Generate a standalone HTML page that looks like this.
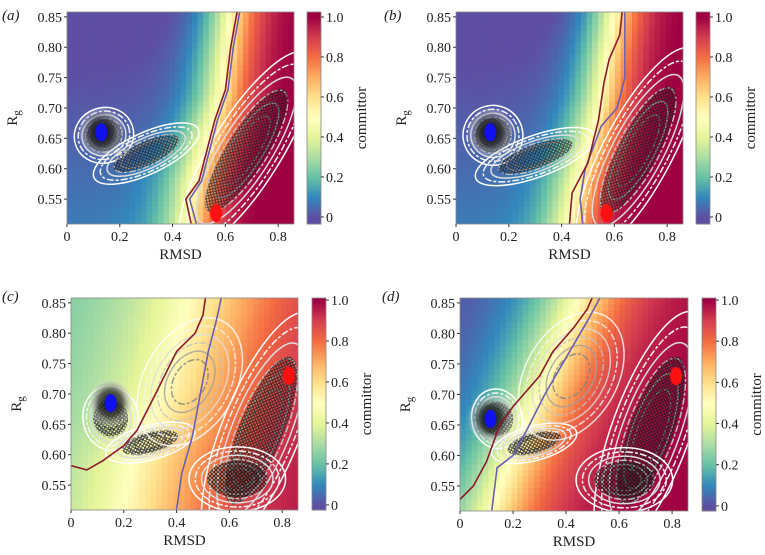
<!DOCTYPE html>
<html><head><meta charset="utf-8"><style>
html,body{margin:0;padding:0;background:#fff;}
svg{display:block;font-family:"Liberation Serif",serif;}
</style></head><body>
<svg id="fig" width="765" height="555" viewBox="0 0 765 555" xmlns="http://www.w3.org/2000/svg">
<defs>
<pattern id="dots" width="4" height="4" patternUnits="userSpaceOnUse">
<circle cx="2" cy="2" r="1.5" fill="none" stroke="#1a1a1a" stroke-width="0.8"/>
</pattern>
<radialGradient id="startShade">
<stop offset="0" stop-color="#000" stop-opacity="0.95"/>
<stop offset="0.55" stop-color="#333" stop-opacity="0.75"/>
<stop offset="1" stop-color="#eee" stop-opacity="0.2"/>
</radialGradient>
</defs>
</svg>
<script>
// ---- data ----
const xTicks=[0,0.2,0.4,0.6,0.8];
const xTickLabels=["0","0.2","0.4","0.6","0.8"];
const yTicks=[0.55,0.60,0.65,0.70,0.75,0.80,0.85];
const yTickLabels=["0.55","0.60","0.65","0.70","0.75","0.80","0.85"];
const cbTicks=[0,0.2,0.4,0.6,0.8,1.0];
const cbTickLabels=["0","0.2","0.4","0.6","0.8","1.0"];
const panelLetters=["a","b","c","d"];
// isolines as [rmsd, rg]
const redLineA=[[0.47,0.51],[0.45,0.55],[0.5,0.58],[0.53,0.63],[0.56,0.68],[0.6,0.73],[0.62,0.8],[0.645,0.86]];
const purpleLineA=[[0.49,0.51],[0.465,0.55],[0.51,0.58],[0.54,0.63],[0.57,0.68],[0.61,0.73],[0.63,0.8],[0.655,0.86]];
const redLineB=[[0.43,0.51],[0.44,0.56],[0.5,0.61],[0.54,0.68],[0.56,0.74],[0.58,0.78],[0.62,0.82],[0.63,0.86]];
const purpleLineB=[[0.48,0.51],[0.47,0.55],[0.49,0.6],[0.55,0.67],[0.61,0.7],[0.64,0.75],[0.64,0.86]];
const redLineC=[[0,0.582],[0.06,0.575],[0.12,0.59],[0.2,0.615],[0.25,0.64],[0.32,0.7],[0.4,0.77],[0.47,0.8],[0.5,0.83],[0.51,0.86]];
const purpleLineC=[[0.4,0.51],[0.42,0.57],[0.46,0.63],[0.49,0.7],[0.52,0.77],[0.55,0.82],[0.57,0.86]];
const redLineD=[[0,0.528],[0.05,0.55],[0.1,0.59],[0.15,0.65],[0.2,0.68],[0.3,0.73],[0.35,0.77],[0.43,0.81],[0.48,0.84],[0.5,0.86]];
const purpleLineD=[[0.12,0.51],[0.14,0.58],[0.2,0.6],[0.25,0.64],[0.32,0.7],[0.4,0.76],[0.48,0.82],[0.53,0.86]];
// committor=0.5 location of heatmap field: rg levels and rmsd positions
const fieldRg=[0.51,0.58,0.65,0.72,0.86];
const halfA=[0.46,0.48,0.53,0.58,0.62];
const halfB=[0.43,0.46,0.51,0.55,0.60];
const halfC=[0.30,0.33,0.40,0.46,0.55];
const halfD=[0.12,0.18,0.25,0.32,0.45];
// field params: [qmin,qmax,width,yslope]
const fieldA=[-0.03,1.02,0.065,0.6];
const fieldB=[-0.03,1.02,0.065,0.6];
const fieldC=[0.2,1.0,0.2,0.0];
const fieldD=[0.0,1.0,0.12,0.0];
// clusters: [rmsd, rg, rxPx, ryPx, rotDeg, dotted(1/0)]
const clustersA=[[0.14,0.655,26,24,-20,1],[0.3,0.625,50,18,-25,1],[0.68,0.63,100,30,-58,1]];
const clustersB=[[0.14,0.655,26,26,-20,1],[0.3,0.62,55,18,-20,1],[0.69,0.63,100,30,-62,1]];
const clustersC=[[0.15,0.66,24,28,-10,1],[0.3,0.62,40,15,-15,1],[0.72,0.64,110,34,-68,1],[0.63,0.56,42,28,0,1],[0.45,0.72,60,40,-60,0]];
const clustersD=[[0.14,0.66,22,26,-10,1],[0.28,0.62,38,15,-15,1],[0.72,0.64,110,34,-70,1],[0.62,0.56,42,28,0,1],[0.42,0.73,60,40,-60,0]];
const startA=[0.13,0.66], endA=[0.565,0.527];
const startB=[0.13,0.66], endB=[0.57,0.527];
const startC=[0.15,0.685], endC=[0.825,0.73];
const startD=[0.115,0.66], endD=[0.815,0.73];

const panels=[
 {px:67,py:12,pw:227,ph:212,cbx:307,cbTop:1.025,cbBot:-0.035,red:redLineA,pur:purpleLineA,half:halfA,f:fieldA,cl:clustersA,s:startA,e:endA,lx:2,ly:20},
 {px:456,py:12,pw:227,ph:212,cbx:696,cbTop:1.025,cbBot:-0.035,red:redLineB,pur:purpleLineB,half:halfB,f:fieldB,cl:clustersB,s:startB,e:endB,lx:384,ly:20},
 {px:71,py:298,pw:227,ph:212,cbx:312,cbTop:1.01,cbBot:-0.025,red:redLineC,pur:purpleLineC,half:halfC,f:fieldC,cl:clustersC,s:startC,e:endC,lx:2,ly:301},
 {px:460,py:298,pw:228,ph:213,cbx:702,cbTop:1.01,cbBot:-0.025,red:redLineD,pur:purpleLineD,half:halfD,f:fieldD,cl:clustersD,s:startD,e:endD,lx:382,ly:301}
];
const XMIN=0,XMAX=0.86,YMIN=0.509,YMAX=0.858;

const stops=["#5e4fa2","#3288bd","#66c2a5","#abdda4","#e6f598","#ffffbf","#fee08b","#fdae61","#f46d43","#d53e4f","#9e0142"];
function hex(c){return [parseInt(c.slice(1,3),16),parseInt(c.slice(3,5),16),parseInt(c.slice(5,7),16)];}
function cmap(q){q=Math.max(0,Math.min(1,q));const t=q*10,i=Math.min(9,Math.floor(t)),f=t-i;const a=hex(stops[i]),b=hex(stops[i+1]);
 return "rgb("+a.map((v,k)=>Math.round(v+(b[k]-v)*f)).join(",")+")";}
const NS="http://www.w3.org/2000/svg";
const svg=document.getElementById("fig");
function el(tag,attrs,parent){const e=document.createElementNS(NS,tag);for(const k in attrs)e.setAttribute(k,attrs[k]);(parent||svg).appendChild(e);return e;}
function halfAt(arr,y){for(let i=0;i<fieldRg.length-1;i++){if(y<=fieldRg[i+1]){const t=(y-fieldRg[i])/(fieldRg[i+1]-fieldRg[i]);return arr[i]+Math.max(0,Math.min(1,t))*(arr[i+1]-arr[i]);}}return arr[arr.length-1];}

panels.forEach((p,pi)=>{
 const sx=v=>p.px+(v-XMIN)/(XMAX-XMIN)*p.pw;
 const sy=v=>p.py+p.ph-(v-YMIN)/(YMAX-YMIN)*p.ph;
 const g=el("g",{});
 
 
 const clipId="clip"+pi;
 const cp=el("clipPath",{id:clipId},g);el("rect",{x:p.px,y:p.py,width:p.pw,height:p.ph},cp);
 const hm=el("g",{"clip-path":"url(#"+clipId+")"},g);
 
 
 const NX=40,NY=36;
 for(let i=0;i<NX;i++)for(let j=0;j<NY;j++){
  const x=XMIN+(i+0.5)/NX*(XMAX-XMIN),y=YMIN+(j+0.5)/NY*(YMAX-YMIN);
  const b=halfAt(p.half,y);
  const z=(x-b)/p.f[2];
  let q=p.f[0]+(p.f[1]-p.f[0])/(1+Math.exp(-z));
  if(z<0)q+=p.f[3]*(0.86-y)*(1-Math.exp(z*1.2))*0.5;
  el("rect",{x:(sx(XMIN+i/NX*(XMAX-XMIN))).toFixed(2),y:(sy(YMIN+(j+1)/NY*(YMAX-YMIN))).toFixed(2),width:(p.pw/NX+0.6).toFixed(2),height:(p.ph/NY+0.6).toFixed(2),fill:cmap(q)},hm);
 }
 const cg=el("g",{"clip-path":"url(#"+clipId+")"},g);
 
 
 p.cl.forEach((c,ci)=>{
  const cx=sx(c[0]),cy=sy(c[1]);
  const sc=[1.15,1.0,0.85,0.7,0.55,0.4],cols=["#ffffff","#f4f4f4","#dddddd","#c0c0c0","#a0a0a0","#808080"];
  sc.forEach((s,k)=>{
   el("ellipse",{cx:cx,cy:cy,rx:c[2]*s,ry:c[3]*s,transform:"rotate("+c[4]+" "+cx+" "+cy+")",fill:"none",stroke:cols[k],"stroke-width":1.5,"stroke-dasharray":k%2?"7 2 3 2":"none",opacity:c[5]?1:0.8},cg);
  });
  if(c[5])el("ellipse",{cx:cx,cy:cy,rx:c[2]*0.72,ry:c[3]*0.65,transform:"rotate("+c[4]+" "+cx+" "+cy+")",fill:"url(#dots)",opacity:pi>=2?0.95:0.85},cg);
 });
 const scx=sx(p.s[0]),scy=sy(p.s[1]);
 el("ellipse",{cx:scx,cy:scy,rx:22,ry:24,fill:"url(#startShade)"},cg);
 const sb=el("ellipse",{cx:scx,cy:scy,rx:6,ry:9,fill:"#1010f0"},cg);
 
 
 const eb=el("ellipse",{cx:sx(p.e[0]),cy:sy(p.e[1]),rx:6,ry:9,fill:"#ff1010"},cg);
 
 
 [[p.pur,"#6a5fb0"],[p.red,"#8b1a2e"]].forEach((L,li)=>{
  const pl=el("polyline",{points:L[0].map(d=>sx(d[0]).toFixed(1)+","+sy(d[1]).toFixed(1)).join(" "),fill:"none",stroke:L[1],"stroke-width":1.6},cg);
  
  
 });
 el("rect",{x:p.px,y:p.py,width:p.pw,height:p.ph,fill:"none",stroke:"#888","stroke-width":0.8},g);
 const xa=el("g",{},g);
 
 
 xTicks.forEach((t,i)=>{const x=sx(t);el("line",{x1:x,x2:x,y1:p.py+p.ph,y2:p.py+p.ph+3,stroke:"#333"},xa);
  const tx=el("text",{x:x,y:p.py+p.ph+17,"text-anchor":"middle","font-size":14,fill:"#222"},xa);tx.textContent=xTickLabels[i];});
 const xt=el("text",{x:p.px+p.pw/2,y:p.py+p.ph+35,"text-anchor":"middle","font-size":15,fill:"#222"},xa);xt.textContent="RMSD";
 
 
 const ya=el("g",{},g);
 
 
 yTicks.forEach((t,i)=>{const y=sy(t);el("line",{x1:p.px-3,x2:p.px,y1:y,y2:y,stroke:"#333"},ya);
  const tx=el("text",{x:p.px-5,y:y+5,"text-anchor":"end","font-size":14,fill:"#222"},ya);tx.textContent=yTickLabels[i];});
 const yt=el("text",{x:0,y:0,"text-anchor":"middle","font-size":15,fill:"#222",transform:"translate("+(p.px-50)+","+(p.py+p.ph/2)+") rotate(-90)"},ya);
 yt.innerHTML='R<tspan font-size="11" dy="3">g</tspan>';
 
 
 const cb=el("g",{},g);
 
 
 const cy2=v=>p.py+(p.cbTop-v)/(p.cbTop-p.cbBot)*p.ph;
 const N=80;
 for(let k=0;k<N;k++){const v0=p.cbBot+(k)/N*(p.cbTop-p.cbBot),v1=p.cbBot+(k+1)/N*(p.cbTop-p.cbBot);
  el("rect",{x:p.cbx,y:cy2(v1),width:14,height:cy2(v0)-cy2(v1)+0.5,fill:cmap((v0+v1)/2)},cb);}
 el("rect",{x:p.cbx,y:p.py,width:14,height:p.ph,fill:"none",stroke:"#888","stroke-width":0.8},cb);
 cbTicks.forEach((t,i)=>{const y=cy2(t);el("line",{x1:p.cbx+14,x2:p.cbx+17,y1:y,y2:y,stroke:"#333"},cb);
  const tx=el("text",{x:p.cbx+19,y:y+5,"font-size":14,fill:"#222"},cb);tx.textContent=cbTickLabels[i];});
 const ct=el("text",{x:0,y:0,"text-anchor":"middle","font-size":15,fill:"#222",transform:"translate("+(p.cbx+59)+","+(p.py+p.ph/2)+") rotate(-90)"},cb);ct.textContent="committor";
 
 
 const lt=el("text",{x:p.lx,y:p.ly,"font-size":15,"font-style":"italic",fill:"#222"},g);lt.textContent="("+panelLetters[pi]+")";
 
 
});
</script>
</body></html>
